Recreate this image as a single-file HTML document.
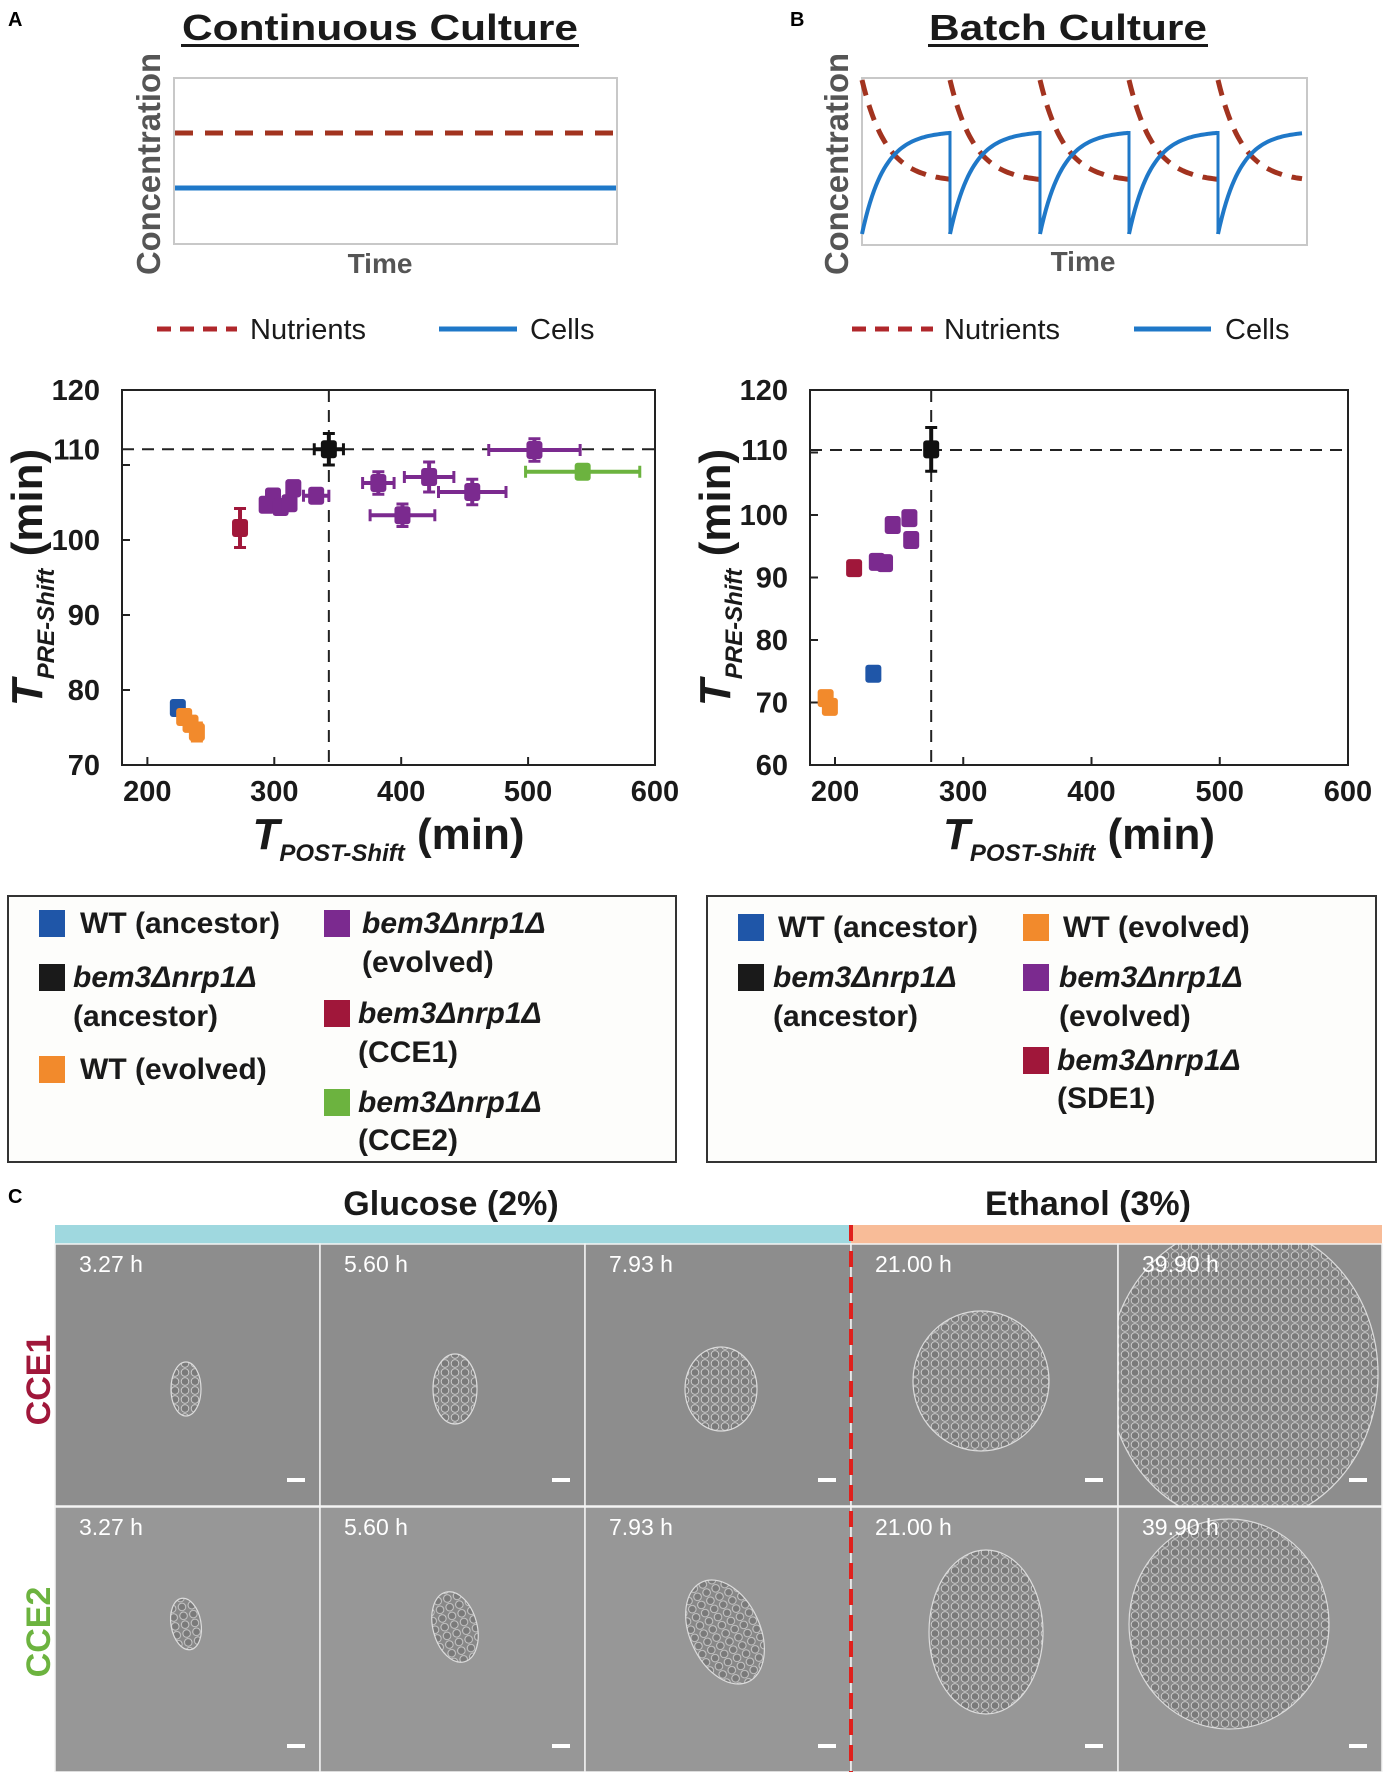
<!DOCTYPE html>
<html><head><meta charset="utf-8"><style>
html,body{margin:0;padding:0;background:#fff}
svg{display:block;font-family:"Liberation Sans",Arial,sans-serif}
</style></head><body>
<svg id="fig" width="1386" height="1772" viewBox="0 0 1386 1772" xmlns="http://www.w3.org/2000/svg">
<defs>
<pattern id="cells" width="10" height="9" patternUnits="userSpaceOnUse">
<rect width="10" height="9" fill="#888"/>
<circle cx="5" cy="4.5" r="3.8" fill="#7a7a7a" stroke="#cfcfcf" stroke-width="0.9"/>
</pattern>
</defs>
<rect width="1386" height="1772" fill="#fff"/>

<text x="8" y="26" font-size="20" font-weight="bold">A</text>
<text x="790" y="26" font-size="20" font-weight="bold">B</text>
<text x="380" y="40" font-size="36" font-weight="bold" text-anchor="middle" fill="#1a1a1a" textLength="396" lengthAdjust="spacingAndGlyphs">Continuous Culture</text>
<rect x="181" y="44" width="398" height="3" fill="#1a1a1a"/>
<text x="1068" y="40" font-size="36" font-weight="bold" text-anchor="middle" fill="#1a1a1a" textLength="278" lengthAdjust="spacingAndGlyphs">Batch Culture</text>
<rect x="928" y="44" width="280" height="3" fill="#1a1a1a"/>

<g>
<rect x="174" y="78" width="443" height="166" fill="#fff" stroke="#c8c8c8" stroke-width="2"/>
<line x1="175" y1="133" x2="616" y2="133" stroke="#a2331f" stroke-width="5" stroke-dasharray="18,12"/>
<line x1="175" y1="188" x2="616" y2="188" stroke="#1f78c8" stroke-width="5"/>
<text transform="translate(160,164) rotate(-90)" font-size="33" font-weight="bold" fill="#555" text-anchor="middle" textLength="222" lengthAdjust="spacingAndGlyphs">Concentration</text>
<text x="380" y="273" font-size="28" font-weight="bold" fill="#555" text-anchor="middle">Time</text>
</g>
<g>
<rect x="862" y="78" width="445" height="167" fill="#fff" stroke="#c8c8c8" stroke-width="2"/>
<g id="batchCurves"></g>
<text transform="translate(848,164) rotate(-90)" font-size="33" font-weight="bold" fill="#555" text-anchor="middle" textLength="222" lengthAdjust="spacingAndGlyphs">Concentration</text>
<text x="1083" y="271" font-size="28" font-weight="bold" fill="#555" text-anchor="middle">Time</text>
</g>

<g>
<line x1="157" y1="329" x2="237" y2="329" stroke="#b0272b" stroke-width="5" stroke-dasharray="14,9"/>
<text x="250" y="339" font-size="29" fill="#1a1a1a">Nutrients</text>
<line x1="439" y1="329" x2="517" y2="329" stroke="#1f78c8" stroke-width="5"/>
<text x="530" y="339" font-size="29" fill="#1a1a1a">Cells</text>
</g>
<g>
<line x1="852" y1="329" x2="933" y2="329" stroke="#b0272b" stroke-width="5" stroke-dasharray="14,9"/>
<text x="944" y="339" font-size="29" fill="#1a1a1a">Nutrients</text>
<line x1="1134" y1="329" x2="1211" y2="329" stroke="#1f78c8" stroke-width="5"/>
<text x="1225" y="339" font-size="29" fill="#1a1a1a">Cells</text>
</g>

<g id="chartA"></g>
<g id="chartB"></g>

<rect x="8" y="896" width="668" height="266" fill="#fdfdfb" stroke="#333" stroke-width="2"/>
<rect x="707" y="896" width="669" height="266" fill="#fdfdfb" stroke="#333" stroke-width="2"/>
<g font-size="30" font-weight="bold" fill="#1a1a1a">
<rect x="39" y="910" width="26" height="27" fill="#1f56a8"/>
<text x="80" y="933">WT (ancestor)</text>
<rect x="39" y="964" width="26" height="27" fill="#1a1a1a"/>
<text x="73" y="987" font-style="italic">bem3Δnrp1Δ</text>
<text x="73" y="1026">(ancestor)</text>
<rect x="39" y="1056" width="26" height="27" fill="#f28a2c"/>
<text x="80" y="1079">WT (evolved)</text>
<rect x="324" y="910" width="26" height="27" fill="#7b2a8f"/>
<text x="362" y="933" font-style="italic">bem3Δnrp1Δ</text>
<text x="362" y="972">(evolved)</text>
<rect x="324" y="1000" width="26" height="27" fill="#a0173a"/>
<text x="358" y="1023" font-style="italic">bem3Δnrp1Δ</text>
<text x="358" y="1062">(CCE1)</text>
<rect x="324" y="1089" width="26" height="27" fill="#6cb33f"/>
<text x="358" y="1112" font-style="italic">bem3Δnrp1Δ</text>
<text x="358" y="1150">(CCE2)</text>

<rect x="738" y="914" width="26" height="27" fill="#1f56a8"/>
<text x="778" y="937">WT (ancestor)</text>
<rect x="1023" y="914" width="26" height="27" fill="#f28a2c"/>
<text x="1063" y="937">WT (evolved)</text>
<rect x="738" y="964" width="26" height="27" fill="#1a1a1a"/>
<text x="773" y="987" font-style="italic">bem3Δnrp1Δ</text>
<text x="773" y="1026">(ancestor)</text>
<rect x="1023" y="964" width="26" height="27" fill="#7b2a8f"/>
<text x="1059" y="987" font-style="italic">bem3Δnrp1Δ</text>
<text x="1059" y="1026">(evolved)</text>
<rect x="1023" y="1047" width="26" height="27" fill="#a0173a"/>
<text x="1057" y="1070" font-style="italic">bem3Δnrp1Δ</text>
<text x="1057" y="1108">(SDE1)</text>
</g>

<text x="8" y="1203" font-size="20" font-weight="bold">C</text>
<text x="451" y="1215" font-size="34" font-weight="bold" text-anchor="middle" fill="#1a1a1a">Glucose (2%)</text>
<text x="1088" y="1215" font-size="34" font-weight="bold" text-anchor="middle" fill="#1a1a1a">Ethanol (3%)</text>
<rect x="55" y="1225" width="796" height="19" fill="#9fd8df"/>
<rect x="851" y="1225" width="531" height="19" fill="#f8bc98"/>
<g id="photos"></g>
<line x1="851" y1="1225" x2="851" y2="1772" stroke="#e0201c" stroke-width="4" stroke-dasharray="16,10"/>
<text transform="translate(50,1380) rotate(-90)" font-size="34" font-weight="bold" fill="#a0173a" text-anchor="middle">CCE1</text>
<text transform="translate(50,1632) rotate(-90)" font-size="34" font-weight="bold" fill="#6cb33f" text-anchor="middle">CCE2</text>
</svg>
<script>
const aPost = [224, 229, 234, 239, 273, 343, 294, 299, 305, 312, 315, 333, 382, 422, 456, 401, 505, 543];
const aPre  = [77.6, 76.4, 75.5, 74.4, 101.6, 112.1, 104.7, 105.8, 104.4, 104.9, 106.9, 105.9, 107.6, 108.4, 106.4, 103.3, 112.0, 109.1];
const aPostErr = [0, 0, 0, 0, 0, 11.5, 0, 0, 0, 0, 0, 10, 12.4, 19.5, 26.6, 25.5, 36, 45];
const aPreErr  = [0, 0, 1, 1.2, 2.6, 2.1, 0, 0, 0, 0, 1, 0, 1.5, 2, 1.7, 1.5, 1.5, 0.8];
const aGroup = ['wtA','wtE','wtE','wtE','cce1','bemA','bemE','bemE','bemE','bemE','bemE','bemE','bemE','bemE','bemE','bemE','bemE','cce2'];
const aRefPost = 343, aRefPre = 112.1;
const aXTicks = [200, 300, 400, 500, 600];
const aYTicks = [70, 80, 90, 100, 110, 120];
const bPost = [192.7, 196, 229.9, 214.9, 232.6, 239, 245, 258, 259.4, 275];
const bPre  = [70.7, 69.3, 74.6, 91.5, 92.5, 92.3, 98.4, 99.5, 96.0, 110.5];
const bPostErr = [0, 0, 0, 0, 0, 0, 0, 0, 0, 4];
const bPreErr  = [0, 0, 0, 0, 0, 0, 0, 0, 0, 3.5];
const bGroup = ['wtE','wtE','wtA','sde1','bemE','bemE','bemE','bemE','bemE','bemA'];
const bRefPost = 275, bRefPre = 110.4;
const bXTicks = [200, 300, 400, 500, 600];
const bYTicks = [60, 70, 80, 90, 100, 110, 120];

const colors = {wtA:'#1f56a8', wtE:'#f28a2c', bemA:'#111', bemE:'#7b2a8f', cce1:'#a0173a', cce2:'#6cb33f', sde1:'#a0173a'};
const NS = 'http://www.w3.org/2000/svg';
function mk(tag, attrs, parent){const e=document.createElementNS(NS,tag);for(const k in attrs)e.setAttribute(k,attrs[k]);parent.appendChild(e);return e;}

function drawChart(g, cfg){
  const sx = v => cfg.left + (v - cfg.xmin) / (cfg.xmax - cfg.xmin) * (cfg.right - cfg.left);
  const sy = v => cfg.bottom - (v - cfg.ymin) / (cfg.ymax - cfg.ymin) * (cfg.bottom - cfg.top);
  const box = mk('rect',{x:cfg.left,y:cfg.top,width:cfg.right-cfg.left,height:cfg.bottom-cfg.top,fill:'#fff',stroke:'#222','stroke-width':2},g);
  
  
  cfg.xt.forEach(t=>{
    const l=mk('line',{x1:sx(t),x2:sx(t),y1:cfg.bottom,y2:cfg.bottom-8,stroke:'#222','stroke-width':2},g);
    
    
    const tx=mk('text',{x:sx(t),y:cfg.bottom+36,'font-size':29,'font-weight':'bold','text-anchor':'middle',fill:'#1a1a1a'},g);
    tx.textContent=t;
    
    
  });
  cfg.yt.forEach(t=>{
    const y=sy(t);
    if (t!==cfg.ymax){
      const l=mk('line',{x1:cfg.left,x2:cfg.left+8,y1:y,y2:y,stroke:'#222','stroke-width':2},g);
      
      
    }
    const ty = (t===110) ? sy(cfg.refPre) : y;
    const tx=mk('text',{x:cfg.left-22,y:ty+10,'font-size':29,'font-weight':'bold','text-anchor':'end',fill:'#1a1a1a'},g);
    tx.textContent=t;
    
    
  });
  const h=mk('line',{x1:cfg.left,x2:cfg.right,y1:sy(cfg.refPre),y2:sy(cfg.refPre),stroke:'#222','stroke-width':2,'stroke-dasharray':'12,8'},g);
  
  
  const v=mk('line',{x1:sx(cfg.refPost),x2:sx(cfg.refPost),y1:cfg.top,y2:cfg.bottom,stroke:'#222','stroke-width':2,'stroke-dasharray':'12,8'},g);
  
  
  cfg.px.forEach((xv,i)=>{
    const c=colors[cfg.grp[i]], cx=sx(xv), cy=sy(cfg.py[i]);
    const pg=mk('g',{},g);
    
    
    if(cfg.xe[i]>0){
      const x1=sx(xv-cfg.xe[i]), x2=sx(xv+cfg.xe[i]);
      mk('line',{x1:x1,x2:x2,y1:cy,y2:cy,stroke:c,'stroke-width':4},pg);
      mk('line',{x1:x1,x2:x1,y1:cy-6,y2:cy+6,stroke:c,'stroke-width':3},pg);
      mk('line',{x1:x2,x2:x2,y1:cy-6,y2:cy+6,stroke:c,'stroke-width':3},pg);
    }
    if(cfg.ye[i]>0){
      const y1=sy(cfg.py[i]-cfg.ye[i]), y2=sy(cfg.py[i]+cfg.ye[i]);
      mk('line',{x1:cx,x2:cx,y1:y1,y2:y2,stroke:c,'stroke-width':4},pg);
      mk('line',{x1:cx-6,x2:cx+6,y1:y1,y2:y1,stroke:c,'stroke-width':3},pg);
      mk('line',{x1:cx-6,x2:cx+6,y1:y2,y2:y2,stroke:c,'stroke-width':3},pg);
    }
    mk('rect',{x:cx-8,y:cy-9,width:16,height:18,rx:3,fill:c},pg);
  });
  const yl=mk('text',{transform:'translate('+(cfg.left-80)+','+((cfg.top+cfg.bottom)/2)+') rotate(-90)','text-anchor':'middle','font-weight':'bold',fill:'#1a1a1a'},g);
  
  
  yl.innerHTML='<tspan font-size="44" font-style="italic">T</tspan><tspan font-size="24" font-style="italic" dy="12">PRE-Shift</tspan><tspan font-size="44" dy="-12"> (min)</tspan>';
  const xl=mk('text',{x:(cfg.left+cfg.right)/2,y:cfg.bottom+84,'text-anchor':'middle','font-weight':'bold',fill:'#1a1a1a'},g);
  
  
  xl.innerHTML='<tspan font-size="44" font-style="italic">T</tspan><tspan font-size="24" font-style="italic" dy="12">POST-Shift</tspan><tspan font-size="44" dy="-12"> (min)</tspan>';
}
drawChart(document.getElementById('chartA'),{left:122,right:655,top:390,bottom:765,xmin:180,xmax:600,ymin:70,ymax:120,
  xt:aXTicks,yt:aYTicks,px:aPost,py:aPre,xe:aPostErr,ye:aPreErr,grp:aGroup,refPost:aRefPost,refPre:aRefPre});
drawChart(document.getElementById('chartB'),{left:810,right:1348,top:390,bottom:765,xmin:180.5,xmax:600,ymin:60,ymax:120,
  xt:bXTicks,yt:bYTicks,px:bPost,py:bPre,xe:bPostErr,ye:bPreErr,grp:bGroup,refPost:bRefPost,refPre:bRefPre});

const cycleStarts = [862, 950, 1040, 1129, 1218];
const cycleEnd = 1303;
(function(){
  const g=document.getElementById('batchCurves');
  cycleStarts.forEach((s,i)=>{
    const e = i<cycleStarts.length-1 ? cycleStarts[i+1] : cycleEnd;
    let pc='', pn='';
    for(let x=s;x<=e;x+=2){
      const t=(x-s)/22;
      const yc=131+(234-131)*Math.exp(-t);
      const yn=182-(182-80)*Math.exp(-t*0.9);
      pc+=(x===s?'M':'L')+x+','+yc.toFixed(1);
      pn+=(x===s?'M':'L')+x+','+yn.toFixed(1);
    }
    const n=mk('path',{d:pn,fill:'none',stroke:'#a2331f','stroke-width':5,'stroke-dasharray':'16,10'},g);
    
    
    const c=mk('path',{d:pc,fill:'none',stroke:'#1f78c8','stroke-width':4},g);
    
    
    if(i>0){
      const d=mk('line',{x1:s,x2:s,y1:131,y2:234,stroke:'#1f78c8','stroke-width':3},g);
      
      
    }
  });
})();

const colX = [55, 320, 585, 851, 1118];
const colW = [265, 265, 266, 267, 264];
const rowY = [1244, 1507];
const rowH = [262, 265];
const times = ['3.27 h','5.60 h','7.93 h','21.00 h','39.90 h'];
const rowFill = ['#8d8d8d','#979797'];
const colonies = [
  [[131,145,15,27,0],[135,145,22,35,0],[136,145,36,42,0],[130,137,68,70,0],[125,130,135,150,0]],
  [[131,117,15,26,-10],[135,120,22,36,-15],[140,125,35,55,-25],[135,125,57,82,0],[111,117,100,105,0]]
];
(function(){
  const g=document.getElementById('photos');
  rowY.forEach((ry,r)=>{
    colX.forEach((cx,c)=>{
      const pg=mk('g',{},g);
      
      
      const clip='clip'+r+'_'+c;
      const cp=mk('clipPath',{id:clip},pg);
      mk('rect',{x:cx,y:ry,width:colW[c],height:rowH[r]},cp);
      const inner=mk('g',{'clip-path':'url(#'+clip+')'},pg);
      mk('rect',{x:cx,y:ry,width:colW[c],height:rowH[r],fill:rowFill[r]},inner);
      const col=colonies[r][c];
      mk('ellipse',{cx:cx+col[0],cy:ry+col[1],rx:col[2],ry:col[3],fill:'url(#cells)',stroke:'#dcdcdc','stroke-width':1.2,transform:'rotate('+col[4]+' '+(cx+col[0])+' '+(ry+col[1])+')'},inner);
      const t=mk('text',{x:cx+24,y:ry+28,'font-size':23,fill:'#fff'},pg);
      t.textContent=times[c];
      
      
      const sb=mk('rect',{x:cx+colW[c]-33,y:ry+rowH[r]-28,width:18,height:4,fill:'#fff'},pg);
      
      
      mk('rect',{x:cx,y:ry,width:colW[c],height:rowH[r],fill:'none',stroke:'#f4f4f4','stroke-width':1.5},pg);
    });
  });
})();
</script>
</body></html>
